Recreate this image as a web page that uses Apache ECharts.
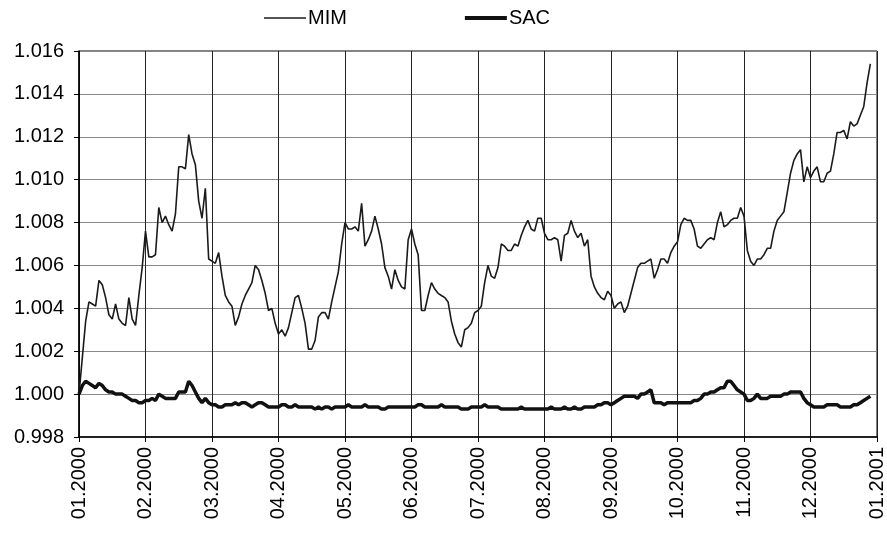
<!DOCTYPE html>
<html>
<head>
<meta charset="utf-8">
<script src="https://cdn.jsdelivr.net/npm/echarts@6/dist/echarts.min.js"></script>
<style>
  html, body { margin: 0; padding: 0; background: #fff; }
  #chart { width: 887px; height: 534px; }
</style>
</head>
<body>
<div id="chart"></div>
<script>
// month labels on the x axis, 20 samples per month
const months = ['01.2000', '02.2000', '03.2000', '04.2000', '05.2000', '06.2000',
  '07.2000', '08.2000', '09.2000', '10.2000', '11.2000', '12.2000', '01.2001']
const perMonth = 20

const mim = [
  // 01
  1.0000, 1.0017, 1.0034, 1.0043, 1.0042, 1.0041, 1.0053, 1.0051, 1.0045, 1.0037,
  1.0035, 1.0042, 1.0035, 1.0033, 1.0032, 1.0045, 1.0035, 1.0032, 1.0046, 1.0059,
  // 02
  1.0076, 1.0064, 1.0064, 1.0065, 1.0087, 1.0080, 1.0083, 1.0079, 1.0076, 1.0084,
  1.0106, 1.0106, 1.0105, 1.0121, 1.0112, 1.0107, 1.0090, 1.0082, 1.0096, 1.0063,
  // 03
  1.0062, 1.0061, 1.0066, 1.0055, 1.0046, 1.0043, 1.0041, 1.0032, 1.0036, 1.0042,
  1.0046, 1.0049, 1.0052, 1.0060, 1.0058, 1.0053, 1.0047, 1.0039, 1.0040, 1.0033,
  // 04
  1.0028, 1.0030, 1.0027, 1.0031, 1.0038, 1.0045, 1.0046, 1.0040, 1.0033, 1.0021,
  1.0021, 1.0025, 1.0036, 1.0038, 1.0038, 1.0035, 1.0043, 1.0050, 1.0057, 1.0070,
  // 05
  1.0080, 1.0077, 1.0077, 1.0078, 1.0076, 1.0089, 1.0069, 1.0072, 1.0076, 1.0083,
  1.0077, 1.0070, 1.0059, 1.0055, 1.0049, 1.0058, 1.0053, 1.0050, 1.0049, 1.0072,
  // 06
  1.0077, 1.0070, 1.0065, 1.0039, 1.0039, 1.0046, 1.0052, 1.0049, 1.0047, 1.0046,
  1.0045, 1.0043, 1.0034, 1.0028, 1.0024, 1.0022, 1.0030, 1.0031, 1.0033, 1.0038,
  // 07
  1.0039, 1.0041, 1.0052, 1.0060, 1.0055, 1.0054, 1.0059, 1.0070, 1.0069, 1.0067,
  1.0067, 1.0070, 1.0069, 1.0074, 1.0078, 1.0081, 1.0077, 1.0076, 1.0082, 1.0082,
  // 08
  1.0075, 1.0072, 1.0072, 1.0073, 1.0072, 1.0062, 1.0074, 1.0075, 1.0081, 1.0076,
  1.0073, 1.0075, 1.0069, 1.0072, 1.0055, 1.0050, 1.0047, 1.0045, 1.0044, 1.0048,
  // 09
  1.0046, 1.0040, 1.0042, 1.0043, 1.0038, 1.0041, 1.0047, 1.0053, 1.0059, 1.0061,
  1.0061, 1.0062, 1.0063, 1.0054, 1.0058, 1.0063, 1.0063, 1.0061, 1.0066, 1.0069,
  // 10
  1.0071, 1.0079, 1.0082, 1.0081, 1.0081, 1.0077, 1.0069, 1.0068, 1.0070, 1.0072,
  1.0073, 1.0072, 1.0080, 1.0085, 1.0078, 1.0079, 1.0081, 1.0082, 1.0082, 1.0087,
  // 11
  1.0083, 1.0067, 1.0062, 1.0060, 1.0063, 1.0063, 1.0065, 1.0068, 1.0068, 1.0076,
  1.0081, 1.0083, 1.0085, 1.0094, 1.0103, 1.0109, 1.0112, 1.0114, 1.0099, 1.0106,
  // 12
  1.0101, 1.0104, 1.0106, 1.0099, 1.0099, 1.0103, 1.0104, 1.0112, 1.0122, 1.0122,
  1.0123, 1.0119, 1.0127, 1.0125, 1.0126, 1.0130, 1.0134, 1.0145, 1.0154
]

const sac = [
  // 01
  1.0000, 1.0004, 1.0006, 1.0005, 1.0004, 1.0003, 1.0005, 1.0004, 1.0002, 1.0001,
  1.0001, 1.0000, 1.0000, 1.0000, 0.9999, 0.9998, 0.9997, 0.9997, 0.9996, 0.9996,
  // 02
  0.9997, 0.9997, 0.9998, 0.9997, 1.0000, 0.9999, 0.9998, 0.9998, 0.9998, 0.9998,
  1.0001, 1.0001, 1.0001, 1.0006, 1.0004, 1.0001, 0.9998, 0.9996, 0.9998, 0.9996,
  // 03
  0.9995, 0.9995, 0.9994, 0.9994, 0.9995, 0.9995, 0.9995, 0.9996, 0.9995, 0.9996,
  0.9996, 0.9995, 0.9994, 0.9995, 0.9996, 0.9996, 0.9995, 0.9994, 0.9994, 0.9994,
  // 04
  0.9994, 0.9995, 0.9995, 0.9994, 0.9994, 0.9995, 0.9994, 0.9994, 0.9994, 0.9994,
  0.9994, 0.9993, 0.9994, 0.9993, 0.9994, 0.9994, 0.9993, 0.9994, 0.9994, 0.9994,
  // 05
  0.9994, 0.9995, 0.9994, 0.9994, 0.9994, 0.9994, 0.9995, 0.9994, 0.9994, 0.9994,
  0.9994, 0.9993, 0.9993, 0.9994, 0.9994, 0.9994, 0.9994, 0.9994, 0.9994, 0.9994,
  // 06
  0.9994, 0.9994, 0.9995, 0.9995, 0.9994, 0.9994, 0.9994, 0.9994, 0.9994, 0.9995,
  0.9994, 0.9994, 0.9994, 0.9994, 0.9994, 0.9993, 0.9993, 0.9993, 0.9994, 0.9994,
  // 07
  0.9994, 0.9994, 0.9995, 0.9994, 0.9994, 0.9994, 0.9994, 0.9993, 0.9993, 0.9993,
  0.9993, 0.9993, 0.9993, 0.9994, 0.9993, 0.9993, 0.9993, 0.9993, 0.9993, 0.9993,
  // 08
  0.9993, 0.9993, 0.9994, 0.9993, 0.9993, 0.9993, 0.9994, 0.9993, 0.9993, 0.9994,
  0.9993, 0.9993, 0.9994, 0.9994, 0.9994, 0.9994, 0.9995, 0.9995, 0.9996, 0.9996,
  // 09
  0.9995, 0.9996, 0.9997, 0.9998, 0.9999, 0.9999, 0.9999, 0.9999, 0.9998, 1.0000,
  1.0000, 1.0001, 1.0002, 0.9996, 0.9996, 0.9996, 0.9995, 0.9996, 0.9996, 0.9996,
  // 10
  0.9996, 0.9996, 0.9996, 0.9996, 0.9996, 0.9997, 0.9997, 0.9998, 1.0000, 1.0000,
  1.0001, 1.0001, 1.0002, 1.0003, 1.0003, 1.0006, 1.0006, 1.0004, 1.0002, 1.0001,
  // 11
  1.0000, 0.9997, 0.9997, 0.9998, 1.0000, 0.9998, 0.9998, 0.9998, 0.9999, 0.9999,
  0.9999, 0.9999, 1.0000, 1.0000, 1.0001, 1.0001, 1.0001, 1.0001, 0.9998, 0.9996,
  // 12
  0.9995, 0.9994, 0.9994, 0.9994, 0.9994, 0.9995, 0.9995, 0.9995, 0.9995, 0.9994,
  0.9994, 0.9994, 0.9994, 0.9995, 0.9995, 0.9996, 0.9997, 0.9998, 0.9999
]

const yMin = 0.998
const yMax = 1.016
const yStep = 0.002

// one category per sample, the first of each month carries the month label
const categories = []
for (let m = 0; m < months.length - 1; m++) {
  for (let k = 0; k < perMonth; k++) {
    categories.push(k == 0 ? months[m] : months[m] + '#' + k)
  }
}
categories.push(months[months.length - 1])

const font = 'Liberation Sans, Arial, sans-serif'
const chart = echarts.init(document.getElementById('chart'))
const option = {
  animation: false,
  backgroundColor: '#fff',
  legend: {
    data: [
      { name: 'MIM', icon: 'path://M0,0h42v1.5h-42z' },
      { name: 'SAC', icon: 'path://M0,0h42v4h-42z' }
    ],
    left: 259,
    top: 3,
    itemWidth: 42,
    itemHeight: 14,
    itemGap: 118,
    textStyle: { fontFamily: font, fontSize: 20, color: '#000', padding: [0, 0, 0, -3] }
  },
  grid: {
    left: 79,
    right: 8,
    top: 51,
    bottom: 97,
    show: true,
    borderColor: '#000',
    borderWidth: 1
  },
  xAxis: {
    type: 'category',
    boundaryGap: false,
    data: categories,
    axisLine: { lineStyle: { color: '#000', width: 1.5 } },
    axisTick: { interval: perMonth - 1, length: 5, lineStyle: { color: '#000' } },
    splitLine: { show: true, interval: perMonth - 1, lineStyle: { color: '#222', width: 1 } },
    axisLabel: {
      interval: perMonth - 1,
      rotate: 90,
      margin: 10,
      fontFamily: font,
      fontSize: 20,
      color: '#000',
      formatter: v => v.indexOf('#') < 0 ? v : ''
    }
  },
  yAxis: {
    type: 'value',
    min: yMin,
    max: yMax,
    interval: yStep,
    axisLine: { show: true, lineStyle: { color: '#000', width: 1.5 } },
    axisTick: { show: true, length: 5, lineStyle: { color: '#000' } },
    splitLine: { lineStyle: { color: '#888', width: 1 } },
    axisLabel: {
      margin: 15,
      fontFamily: font,
      fontSize: 20,
      color: '#000',
      formatter: v => v.toFixed(3)
    }
  },
  series: [
    {
      name: 'MIM',
      type: 'line',
      data: mim,
      symbol: 'none',
      lineStyle: { color: '#1a1a1a', width: 1.6 },
      itemStyle: { color: '#1a1a1a' }
    },
    {
      name: 'SAC',
      type: 'line',
      data: sac,
      symbol: 'none',
      lineStyle: { color: '#111', width: 3.5 },
      itemStyle: { color: '#111' }
    }
  ]
}
chart.setOption(option)
</script>
</body>
</html>
